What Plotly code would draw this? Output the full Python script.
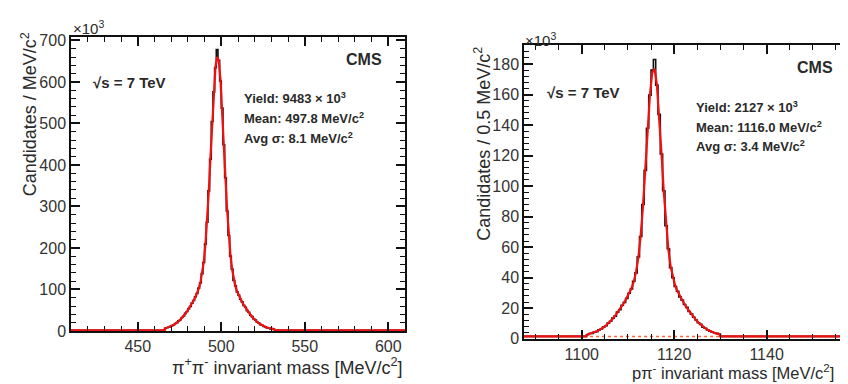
import numpy as np
import plotly.graph_objects as go

FONT = "Liberation Sans, Arial, sans-serif"
W, H = 848, 384

# ---------------- K0S -> pi+ pi-  (counts x10^3 per 1 MeV/c^2) ----------------
ks_range = [410, 610]
ks_first_edge = 466.0
ks_bin_width = 1.0
ks_bkg = 1.5
ks_counts = [6.2, 7.8, 9.0, 10.5, 12.8, 14.6, 17.9, 20.1, 24.3, 27.2, 32.4, 36.1,
             42.3, 46.8, 53.9, 59.1, 67.2, 73.4, 82.4, 90.3, 103.1, 115.9, 138.2,
             165.0, 209.9, 262.1, 337.4, 414.0, 504.8, 576.1, 634.0, 678.0, 652.3,
             602.1, 536.9, 448.6, 369.0, 289.2, 230.1, 180.4, 149.0, 121.7, 108.8,
             94.2, 86.1, 76.3, 70.0, 61.6, 57.2, 49.0, 45.1, 38.0, 34.6, 28.7, 26.1,
             21.0, 19.3, 15.1, 13.9, 10.6, 9.8, 7.2, 6.4, 5.1, 4.6, 3.9]
ks_fit = [6.4, 7.6, 9.0, 10.7, 12.6, 14.9, 17.5, 20.5, 23.9, 27.7, 31.9, 36.7,
          41.8, 47.4, 53.4, 59.8, 66.5, 74.0, 81.9, 91.0, 102.0, 116.5, 137.0,
          166.5, 208.5, 264.5, 335.5, 417.5, 502.5, 579.5, 636.5, 660.5, 650.5,
          605.5, 535.5, 451.5, 367.5, 291.5, 228.5, 181.5, 147.5, 123.5, 107.5,
          95.1, 85.3, 77.1, 69.3, 62.4, 55.9, 49.8, 44.0, 38.7, 33.8, 29.3, 25.4,
          21.8, 18.6, 15.9, 13.5, 11.4, 9.6, 8.1, 6.9, 5.9, 5.1, 4.5]

# ---------------- Lambda -> p pi-  (counts x10^3 per 0.5 MeV/c^2) ----------------
la_range = [1087.5, 1158.7]
la_first_edge = 1101.0
la_bin_width = 0.5
la_bkg = 1.5
la_counts = [2.6, 3.4, 3.5, 4.3, 4.6, 5.8, 6.3, 7.7, 8.5, 10.2, 11.4, 13.5, 14.8,
             17.4, 19.0, 21.9, 23.8, 26.4, 29.8, 32.6, 37.6, 43.1, 53.6, 67.0,
             87.9, 110.3, 137.9, 159.6, 176.0, 183.0, 166.2, 147.0, 121.0, 96.9,
             74.0, 58.9, 46.6, 39.9, 34.2, 31.1, 27.4, 25.3, 22.4, 20.5, 17.8,
             16.1, 14.0, 12.2, 10.4, 9.4, 7.6, 6.8, 5.7, 4.9, 4.3, 3.9, 3.5, 3.1]
la_fit = [2.8, 3.2, 3.6, 4.2, 4.8, 5.6, 6.4, 7.5, 8.7, 10.0, 11.6, 13.2, 15.1,
          17.1, 19.3, 21.6, 24.0, 26.7, 29.5, 32.9, 37.3, 43.7, 53.2, 67.5, 86.9,
          111.0, 136.9, 159.7, 174.3, 176.9, 166.8, 146.7, 121.4, 96.2, 74.6, 58.4,
          47.0, 39.5, 34.4, 30.9, 27.8, 25.0, 22.6, 20.2, 18.0, 15.9, 14.0, 12.2,
          10.6, 9.2, 7.9, 6.8, 5.9, 5.1, 4.4, 3.8, 3.3, 3.0]

ks_stats = ["Yield: 9483 × 10<sup>3</sup>", "Mean: 497.8 MeV/c<sup>2</sup>",
            "Avg σ: 8.1 MeV/c<sup>2</sup>"]
la_stats = ["Yield: 2127 × 10<sup>3</sup>", "Mean: 1116.0 MeV/c<sup>2</sup>",
            "Avg σ: 3.4 MeV/c<sup>2</sup>"]


def hist_xy(rng, first_edge, width, counts, bkg):
    edges = first_edge + width * np.arange(len(counts) + 1)
    xs = [rng[0]] + list(edges) + [rng[1]]
    ys = [bkg] + list(counts) + [bkg, bkg]
    return xs, ys


def fit_xy(rng, first_edge, width, fit, bkg):
    centers = first_edge + width * (np.arange(len(fit)) + 0.5)
    xs = [rng[0], first_edge] + list(centers) + [first_edge + width * len(fit), rng[1]]
    ys = [bkg, bkg] + list(fit) + [bkg, bkg]
    return xs, ys


fig = go.Figure()

hx, hy = hist_xy(ks_range, ks_first_edge, ks_bin_width, ks_counts, ks_bkg)
fig.add_trace(go.Scatter(x=hx, y=hy, mode="lines", line=dict(color="#111", width=1.6, shape="hv"),
                         xaxis="x", yaxis="y", showlegend=False, hoverinfo="skip"))
fx, fy = fit_xy(ks_range, ks_first_edge, ks_bin_width, ks_fit, ks_bkg)
fig.add_trace(go.Scatter(x=fx, y=fy, mode="lines", line=dict(color="#f01010", width=2.2),
                         xaxis="x", yaxis="y", showlegend=False, hoverinfo="skip"))

hx, hy = hist_xy(la_range, la_first_edge, la_bin_width, la_counts, la_bkg)
fig.add_trace(go.Scatter(x=hx, y=hy, mode="lines", line=dict(color="#111", width=1.6, shape="hv"),
                         xaxis="x2", yaxis="y2", showlegend=False, hoverinfo="skip"))
fig.add_trace(go.Scatter(x=la_range, y=[la_bkg, la_bkg], mode="lines",
                         line=dict(color="#ff6a3a", width=1.5, dash="dot"),
                         xaxis="x2", yaxis="y2", showlegend=False, hoverinfo="skip"))
fx, fy = fit_xy(la_range, la_first_edge, la_bin_width, la_fit, la_bkg)
fig.add_trace(go.Scatter(x=fx, y=fy, mode="lines", line=dict(color="#f01010", width=2.2),
                         xaxis="x2", yaxis="y2", showlegend=False, hoverinfo="skip"))

TXT = "#2a2a2a"
tickfont = dict(family=FONT, size=16, color="#333")


def axis(dom, rng, dtick, minor_dtick):
    return dict(domain=dom, range=rng, showline=True, linecolor="#111", linewidth=1.5,
                mirror="allticks", ticks="inside", ticklen=9, tickwidth=1.5, tickcolor="#111",
                minor=dict(ticks="inside", ticklen=5, tickwidth=1.2, tickcolor="#111",
                           dtick=minor_dtick, showgrid=False),
                showgrid=False, zeroline=False, tickfont=tickfont, dtick=dtick, tick0=0)


def px(x):
    return x / W


def py(y):
    return 1 - y / H


fig.update_layout(
    width=W, height=H, margin=dict(l=0, r=0, t=0, b=0),
    paper_bgcolor="white", plot_bgcolor="white",
    xaxis=axis([px(63), px(397)], ks_range, 50, 10),
    yaxis=axis([py(330), py(25)], [0, 708], 100, 20),
    xaxis2=axis([px(516), px(845)], la_range, 20, 5),
    yaxis2=axis([py(338), py(33)], [0, 192.6], 20, 4),
)
fig.layout.xaxis.anchor = "y"
fig.layout.yaxis.anchor = "x"
fig.layout.xaxis2.anchor = "y2"
fig.layout.yaxis2.anchor = "x2"

ann = []


def add(text, x, y, size, xanchor="left", yanchor="middle", bold=False, angle=0, color=TXT):
    ann.append(dict(text=("<b>%s</b>" % text) if bold else text, x=px(x), y=py(y),
                    xref="paper", yref="paper", xanchor=xanchor, yanchor=yanchor,
                    showarrow=False, textangle=angle,
                    font=dict(family=FONT, size=size, color=color)))


# left panel
add("×10<sup>3</sup>", 63, 15, 15)
add("Candidates / MeV/c<sup>2</sup>", 21, 18, 18, xanchor="center", yanchor="top", angle=-90)
add("π<sup>+</sup>π<sup>-</sup> invariant mass [MeV/c<sup>2</sup>]", 397, 367, 18, xanchor="right")
add("√s = 7 TeV", 83, 72, 15, bold=True)
add("CMS", 376, 48, 16, xanchor="right", bold=True)
for i, s in enumerate(ks_stats):
    add(s, 234, 88 + 21 * i, 13, bold=True)

# right panel
add("×10<sup>3</sup>", 515, 27, 15)
add("Candidates / 0.5 MeV/c<sup>2</sup>", 475, 33, 18, xanchor="center", yanchor="top", angle=-90)
add("pπ<sup>-</sup> invariant mass [MeV/c<sup>2</sup>]", 622, 373, 16.5, xanchor="left")
add("√s = 7 TeV", 537, 82, 15, bold=True)
add("CMS", 827, 57, 16, xanchor="right", bold=True)
for i, s in enumerate(la_stats):
    add(s, 686, 98 + 20 * i, 13, bold=True)

fig.update_layout(annotations=ann)
fig.write_html("out.html")
